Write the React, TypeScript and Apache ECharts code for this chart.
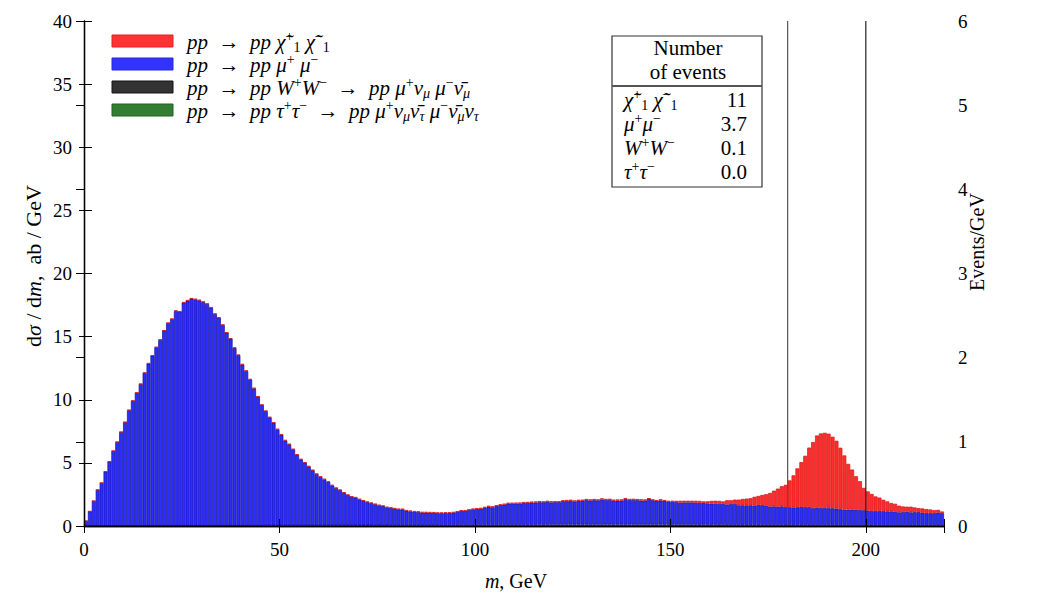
import React, { useEffect, useRef } from "react";
import * as echarts from "echarts";

// bins of 1 GeV from 0 to 220
const binStarts: number[] = Array.from({ length: 220 }, (_, i) => i);

// d sigma / dm, ab/GeV, per process (stacked: tautau, WW, mumu, chargino)
const mumu: number[] = [
  0.4, 1.16, 1.98, 2.86, 3.41, 4.29, 5.08, 5.93, 6.64, 7.43,
  8.21, 9.16, 9.9, 10.54, 11.22, 12.1, 12.84, 13.47, 14.13, 14.72,
  15.45, 16.05, 16.37, 17.01, 16.95, 17.67, 17.83, 17.99, 17.93, 17.85,
  17.72, 17.57, 17.27, 16.77, 16.47, 15.9, 15.29, 14.81, 14.07, 13.51,
  12.77, 12.25, 11.58, 10.87, 10.21, 9.57, 9.07, 8.57, 8.14, 7.62,
  7.19, 6.74, 6.43, 6.03, 5.6, 5.23, 4.97, 4.67, 4.37, 4.07,
  3.85, 3.64, 3.45, 3.16, 2.95, 2.79, 2.58, 2.4, 2.26, 2.19,
  2.05, 1.95, 1.84, 1.76, 1.66, 1.58, 1.52, 1.42, 1.37, 1.31,
  1.26, 1.25, 1.15, 1.1, 1.07, 1.05, 1.0, 1.0, 0.99, 0.99,
  0.96, 0.95, 0.96, 0.96, 0.99, 1.05, 1.13, 1.13, 1.19, 1.24,
  1.29, 1.29, 1.37, 1.45, 1.4, 1.5, 1.58, 1.61, 1.69, 1.69,
  1.69, 1.69, 1.74, 1.74, 1.77, 1.77, 1.79, 1.79, 1.82, 1.77,
  1.79, 1.79, 1.87, 1.87, 1.9, 1.84, 1.9, 1.9, 1.95, 1.92,
  1.95, 1.92, 2.0, 1.95, 1.95, 1.9, 1.9, 1.9, 2.03, 1.95,
  1.95, 1.95, 1.9, 1.92, 2.05, 1.95, 1.9, 1.92, 1.9, 1.82,
  1.82, 1.79, 1.74, 1.77, 1.77, 1.77, 1.74, 1.74, 1.74, 1.69,
  1.69, 1.66, 1.66, 1.66, 1.61, 1.66, 1.66, 1.55, 1.55, 1.55,
  1.55, 1.53, 1.58, 1.58, 1.53, 1.45, 1.47, 1.45, 1.47, 1.4,
  1.41, 1.38, 1.41, 1.43, 1.41, 1.41, 1.33, 1.38, 1.35, 1.35,
  1.33, 1.33, 1.3, 1.25, 1.22, 1.22, 1.22, 1.22, 1.19, 1.17,
  1.14, 1.11, 1.11, 1.11, 1.11, 1.09, 1.09, 1.06, 1.01, 1.03,
  1.06, 1.01, 1.03, 1.03, 0.98, 0.95, 0.95, 0.95, 1.01, 0.95,
];

const chargino: number[] = [
  0, 0, 0.01, 0.01, 0.01, 0.02, 0.02, 0.02, 0.02, 0.02,
  0.02, 0.03, 0.03, 0.02, 0.03, 0.03, 0.04, 0.03, 0.03, 0.04,
  0.03, 0.04, 0.03, 0.04, 0.03, 0.04, 0.04, 0.03, 0.04, 0.04,
  0.04, 0.03, 0.04, 0.04, 0.03, 0.04, 0.04, 0.03, 0.04, 0.04,
  0.04, 0.03, 0.04, 0.04, 0.04, 0.03, 0.04, 0.04, 0.03, 0.04,
  0.04, 0.04, 0.03, 0.04, 0.04, 0.04, 0.03, 0.04, 0.04, 0.04,
  0.04, 0.04, 0.05, 0.04, 0.04, 0.05, 0.04, 0.05, 0.04, 0.05,
  0.05, 0.04, 0.05, 0.05, 0.04, 0.05, 0.05, 0.05, 0.04, 0.05,
  0.05, 0.05, 0.05, 0.06, 0.05, 0.05, 0.06, 0.05, 0.06, 0.05,
  0.06, 0.05, 0.06, 0.06, 0.05, 0.06, 0.06, 0.06, 0.07, 0.06,
  0.06, 0.07, 0.06, 0.07, 0.08, 0.07, 0.06, 0.08, 0.07, 0.06,
  0.07, 0.08, 0.07, 0.08, 0.07, 0.08, 0.08, 0.07, 0.08, 0.09,
  0.08, 0.08, 0.07, 0.09, 0.08, 0.09, 0.08, 0.09, 0.08, 0.09,
  0.09, 0.08, 0.09, 0.09, 0.1, 0.09, 0.09, 0.1, 0.08, 0.09,
  0.1, 0.09, 0.11, 0.08, 0.03, 0.05, 0.05, 0.08, 0.05, 0.08,
  0.08, 0.11, 0.16, 0.13, 0.13, 0.13, 0.16, 0.16, 0.11, 0.16,
  0.21, 0.24, 0.24, 0.19, 0.34, 0.29, 0.34, 0.45, 0.5, 0.53,
  0.56, 0.69, 0.71, 0.79, 0.9, 1.08, 1.24, 1.43, 1.59, 1.77,
  2.12, 2.54, 3.07, 3.54, 4.07, 4.71, 5.24, 5.71, 5.9, 5.95,
  5.9, 5.66, 5.37, 4.87, 4.29, 3.62, 3.17, 2.65, 2.28, 1.77,
  1.53, 1.35, 1.16, 1.06, 0.9, 0.79, 0.66, 0.63, 0.53, 0.45,
  0.4, 0.45, 0.37, 0.32, 0.34, 0.32, 0.29, 0.24, 0.21, 0.13,
];

const ww: number[] = [
  0, 0, 0, 0, 0, 0, 0, 0, 0, 0,
  0, 0, 0, 0, 0.01, 0.01, 0.01, 0.01, 0.01, 0.01,
  0.01, 0.01, 0.01, 0.01, 0.01, 0.01, 0.01, 0.01, 0.01, 0.01,
  0.01, 0.01, 0.01, 0.01, 0.01, 0.01, 0.01, 0.01, 0.02, 0.01,
  0.01, 0.02, 0.01, 0.02, 0.02, 0.01, 0.02, 0.02, 0.02, 0.02,
  0.02, 0.02, 0.02, 0.02, 0.02, 0.02, 0.02, 0.02, 0.02, 0.02,
  0.02, 0.03, 0.02, 0.03, 0.03, 0.03, 0.03, 0.03, 0.03, 0.03,
  0.03, 0.03, 0.03, 0.03, 0.04, 0.03, 0.04, 0.03, 0.04, 0.04,
  0.04, 0.04, 0.04, 0.04, 0.04, 0.04, 0.04, 0.04, 0.04, 0.04,
  0.04, 0.05, 0.05, 0.05, 0.05, 0.05, 0.05, 0.05, 0.05, 0.06,
  0.05, 0.06, 0.06, 0.06, 0.06, 0.06, 0.06, 0.06, 0.06, 0.07,
  0.07, 0.07, 0.07, 0.07, 0.07, 0.07, 0.08, 0.07, 0.08, 0.08,
  0.08, 0.08, 0.08, 0.08, 0.08, 0.08, 0.08, 0.08, 0.09, 0.08,
  0.08, 0.09, 0.08, 0.09, 0.09, 0.08, 0.09, 0.09, 0.08, 0.09,
  0.09, 0.08, 0.09, 0.08, 0.09, 0.08, 0.08, 0.09, 0.08, 0.08,
  0.08, 0.08, 0.08, 0.08, 0.08, 0.08, 0.08, 0.07, 0.08, 0.08,
  0.07, 0.08, 0.07, 0.08, 0.07, 0.07, 0.07, 0.07, 0.07, 0.07,
  0.07, 0.07, 0.07, 0.07, 0.07, 0.07, 0.07, 0.06, 0.07, 0.07,
  0.06, 0.07, 0.06, 0.07, 0.06, 0.07, 0.06, 0.06, 0.06, 0.06,
  0.06, 0.06, 0.06, 0.06, 0.06, 0.06, 0.06, 0.05, 0.06, 0.06,
  0.05, 0.06, 0.05, 0.06, 0.05, 0.05, 0.05, 0.05, 0.05, 0.05,
  0.05, 0.05, 0.05, 0.05, 0.05, 0.05, 0.05, 0.05, 0.04, 0.05,
];

const tautau: number[] = [
  0, 0, 0, 0, 0, 0.01, 0.01, 0.01, 0.01, 0.01,
  0.01, 0.01, 0.01, 0.01, 0.01, 0.01, 0.01, 0.01, 0.01, 0.01,
  0.01, 0.01, 0.01, 0.01, 0.01, 0.01, 0.01, 0.01, 0.01, 0.01,
  0.01, 0.01, 0.01, 0.01, 0.01, 0.01, 0.01, 0.01, 0.01, 0.01,
  0.01, 0.01, 0.01, 0.01, 0.01, 0.01, 0.01, 0.01, 0.02, 0.01,
  0.02, 0.01, 0.02, 0.02, 0.02, 0.02, 0.02, 0.02, 0.02, 0.02,
  0.02, 0.02, 0.02, 0.02, 0.02, 0.02, 0.02, 0.02, 0.02, 0.02,
  0.02, 0.02, 0.02, 0.02, 0.02, 0.02, 0.02, 0.02, 0.02, 0.02,
  0.02, 0.02, 0.02, 0.02, 0.02, 0.02, 0.02, 0.02, 0.02, 0.02,
  0.02, 0.02, 0.02, 0.02, 0.02, 0.02, 0.02, 0.02, 0.02, 0.02,
  0.02, 0.02, 0.02, 0.02, 0.02, 0.02, 0.02, 0.02, 0.02, 0.02,
  0.02, 0.02, 0.02, 0.02, 0.02, 0.02, 0.02, 0.02, 0.02, 0.02,
  0.02, 0.02, 0.02, 0.02, 0.02, 0.02, 0.02, 0.02, 0.02, 0.02,
  0.02, 0.02, 0.02, 0.02, 0.02, 0.02, 0.02, 0.02, 0.02, 0.02,
  0.02, 0.02, 0.02, 0.02, 0.02, 0.02, 0.02, 0.02, 0.02, 0.02,
  0.02, 0.02, 0.02, 0.02, 0.02, 0.02, 0.02, 0.02, 0.02, 0.02,
  0.02, 0.02, 0.02, 0.02, 0.02, 0.02, 0.02, 0.02, 0.02, 0.02,
  0.02, 0.02, 0.02, 0.02, 0.02, 0.02, 0.02, 0.02, 0.02, 0.02,
  0.02, 0.02, 0.02, 0.02, 0.02, 0.02, 0.02, 0.02, 0.02, 0.02,
  0.02, 0.02, 0.02, 0.02, 0.02, 0.02, 0.02, 0.02, 0.02, 0.02,
  0.02, 0.02, 0.02, 0.02, 0.02, 0.02, 0.02, 0.02, 0.02, 0.02,
  0.02, 0.02, 0.02, 0.02, 0.02, 0.02, 0.02, 0.02, 0.02, 0.02,
];

const cutLines: number[] = [180, 200];
const xTicks = { min: 0, max: 220, interval: 50 };
const yLeft = { min: 0, max: 40, interval: 5 };
const yRight = { min: 0, max: 6, interval: 1 };

const tableHeader: string[] = ["Number", "of events"];
const tableRows: { label: string; value: string }[] = [
  { label: "{i|χ̃}{sp|+}{sn|1}{i| χ̃}{sp|−}{sn|1}", value: "11" },
  { label: "{i|μ}{sp|+}{i|μ}{sp|−}", value: "3.7" },
  { label: "{i|W}{sp|+}{i|W}{sp|−}", value: "0.1" },
  { label: "{i|τ}{sp|+}{i|τ}{sp|−}", value: "0.0" },
];

const legendItems: { text: string; color: string; border: string }[] = [
  { text: "{i|pp}  →  {i|pp} {i|χ̃}{sp|+}{sn|1}{i| χ̃}{sp|−}{sn|1}", color: "rgb(255,51,51)", border: "rgb(230,30,30)" },
  { text: "{i|pp}  →  {i|pp} {i|μ}{sp|+}{i| μ}{sp|−}", color: "rgb(51,51,255)", border: "rgb(40,40,220)" },
  { text: "{i|pp}  →  {i|pp} {i|W}{sp|+}{i|W}{sp|−}  →  {i|pp} {i|μ}{sp|+}{i|ν}{sb|μ} {i|μ}{sp|−}{i|ν̄}{sb|μ}", color: "rgb(51,51,51)", border: "rgb(20,20,20)" },
  { text: "{i|pp}  →  {i|pp} {i|τ}{sp|+}{i|τ}{sp|−}  →  {i|pp} {i|μ}{sp|+}{i|ν}{sb|μ}{i|ν̄}{sb|τ} {i|μ}{sp|−}{i|ν̄}{sb|μ}{i|ν}{sb|τ}", color: "rgb(51,125,51)", border: "rgb(30,100,30)" },
];

const F = "Liberation Serif";
const FS = 19;

function makeRich(size: number) {
  const small = Math.round(size * 0.68);
  const lh = size + 4;
  return {
    i: { fontFamily: F, fontStyle: "italic", fontSize: size, color: "#000", lineHeight: lh },
    r: { fontFamily: F, fontSize: size, color: "#000", lineHeight: lh },
    sp: { fontFamily: F, fontSize: small, color: "#000", verticalAlign: "top", lineHeight: small },
    sb: { fontFamily: F, fontStyle: "italic", fontSize: small, color: "#000", verticalAlign: "bottom", lineHeight: small },
    sn: { fontFamily: F, fontSize: small, color: "#000", verticalAlign: "bottom", lineHeight: small },
  };
}

function buildOption() {
  const tickStyle = { color: "#000", width: 1 };
  const barBase = { type: "bar", stack: "total", barCategoryGap: "0%", xAxisIndex: 0, yAxisIndex: 0 };
  const richL = makeRich(21);
  const richT = makeRich(21);
  const richA = makeRich(20);
  const richY = makeRich(22);

  const graphic: any[] = [];
  // legend
  const legendY = [41, 64, 87, 110];
  legendItems.forEach((it, k) => {
    graphic.push({
      type: "rect",
      shape: { x: 112, y: legendY[k] - 6, width: 61, height: 12 },
      style: { fill: it.color, stroke: it.border, lineWidth: 1 },
      z: 20,
    });
    graphic.push({
      type: "text",
      x: 187,
      y: legendY[k] + 1,
      style: {
        text: it.text,
        rich: richL,
        fontFamily: F,
        fontSize: 21,
        lineHeight: 25,
        fill: "#000",
        textAlign: "left",
        textVerticalAlign: "middle",
      },
      z: 20,
    });
  });
  // table
  graphic.push({
    type: "rect",
    shape: { x: 612, y: 36, width: 150, height: 151 },
    style: { fill: "#fff", stroke: "#333", lineWidth: 1.2 },
    z: 20,
  });
  graphic.push({
    type: "line",
    shape: { x1: 612, y1: 86, x2: 762, y2: 86 },
    style: { stroke: "#555", lineWidth: 2 },
    z: 21,
  });
  tableHeader.forEach((h, k) => {
    graphic.push({
      type: "text", x: 688, y: 48 + k * 24,
      style: { text: h, fontFamily: F, fontSize: 21, fill: "#000", textAlign: "center", textVerticalAlign: "middle" },
      z: 21,
    });
  });
  const rowY = [100, 124, 148, 172];
  tableRows.forEach((row, k) => {
    graphic.push({
      type: "text", x: 624, y: rowY[k],
      style: { text: row.label, rich: richT, fontFamily: F, fontSize: 21, lineHeight: 25, fill: "#000", textAlign: "left", textVerticalAlign: "middle" },
      z: 21,
    });
    graphic.push({
      type: "text", x: 747, y: rowY[k],
      style: { text: row.value, fontFamily: F, fontSize: 21, fill: "#000", textAlign: "right", textVerticalAlign: "middle" },
      z: 21,
    });
  });
  // axis names
  graphic.push({
    type: "text", x: 516, y: 581,
    style: { text: "{i|m}, GeV", rich: richA, fontFamily: F, fontSize: 20, fill: "#000", textAlign: "center", textVerticalAlign: "middle" },
  });
  graphic.push({
    type: "text", x: 33, y: 266, rotation: Math.PI / 2,
    style: { text: "d{i|σ} / d{i|m},  ab / GeV", rich: richY, fontFamily: F, fontSize: 22, fill: "#000", textAlign: "center", textVerticalAlign: "middle" },
  });
  graphic.push({
    type: "text", x: 977, y: 242, rotation: Math.PI / 2,
    style: { text: "Events/GeV", fontFamily: F, fontSize: 20, fill: "#000", textAlign: "center", textVerticalAlign: "middle" },
  });

  const vlines = cutLines.map((m, k) => ({
    type: "line",
    xAxisIndex: 1,
    yAxisIndex: 0,
    data: [[m, yLeft.min], [m, yLeft.max]],
    symbol: "none",
    silent: true,
    z: 6,
    lineStyle: { color: k === 0 ? "#555" : "#222", width: 1.2 },
  }));

  return {
    animation: false,
    backgroundColor: "#fff",
    grid: { left: 84, right: 106, top: 21, bottom: 74, containLabel: false },
    xAxis: [
      { type: "category", data: binStarts, show: false, boundaryGap: true },
      {
        type: "value", position: "bottom", ...xTicks, z: 10,
        axisLine: { show: true, lineStyle: { color: "#000", width: 1.3 } },
        axisTick: { show: true, inside: true, length: 7, lineStyle: tickStyle },
        axisLabel: {
          fontFamily: F, fontSize: FS, color: "#000", margin: 14,
          formatter: (v: number) => (v % 50 === 0 ? String(v) : ""),
        },
        splitLine: { show: false },
      },
      {
        type: "value", position: "top", ...xTicks, z: 10,
        axisLine: { show: true, lineStyle: { color: "#000", width: 1.3 } },
        axisTick: { show: true, inside: true, length: 7, lineStyle: tickStyle },
        axisLabel: { show: false },
        splitLine: { show: false },
      },
    ],
    yAxis: [
      {
        type: "value", position: "left", ...yLeft, z: 10,
        axisLine: { show: true, lineStyle: { color: "#000", width: 1.3 } },
        axisTick: { show: true, inside: true, length: 8, lineStyle: tickStyle },
        axisLabel: { fontFamily: F, fontSize: FS, color: "#000", margin: 12 },
        splitLine: { show: false },
      },
      {
        type: "value", position: "right", ...yRight, z: 10,
        axisLine: { show: true, lineStyle: { color: "#000", width: 1.3 } },
        axisTick: { show: true, inside: true, length: 8, lineStyle: tickStyle },
        axisLabel: { fontFamily: F, fontSize: FS, color: "#000", margin: 14 },
        splitLine: { show: false },
      },
      {
        type: "value", position: "left", ...yLeft, z: 10,
        axisLine: { show: false },
        axisTick: { show: true, inside: false, length: 5, lineStyle: tickStyle },
        axisLabel: { show: false },
        splitLine: { show: false },
      },
    ],
    series: [
      { ...barBase, name: "tautau", data: tautau, itemStyle: { color: "rgb(51,125,51)", borderColor: "rgb(30,90,30)", borderWidth: 0.4 } },
      { ...barBase, name: "ww", data: ww, itemStyle: { color: "rgb(51,51,51)", borderColor: "rgb(20,20,20)", borderWidth: 0.4 } },
      { ...barBase, name: "mumu", data: mumu, itemStyle: { color: "rgb(45,45,255)", borderColor: "rgb(15,15,150)", borderWidth: 0.7 } },
      { ...barBase, name: "chargino", data: chargino, itemStyle: { color: "rgb(255,45,45)", borderColor: "rgb(215,20,20)", borderWidth: 0.7 } },
      ...vlines,
    ],
    graphic,
  };
}

export default function App() {
  const ref = useRef<HTMLDivElement>(null);
  useEffect(() => {
    if (!ref.current) return;
    const chart = echarts.init(ref.current, undefined, { renderer: "svg" });
    chart.setOption(buildOption() as any);
    return () => chart.dispose();
  }, []);
  return (
    <div
      ref={ref}
      style={{ position: "fixed", left: 0, top: 0, width: 1050, height: 600, background: "#fff" }}
    />
  );
}
